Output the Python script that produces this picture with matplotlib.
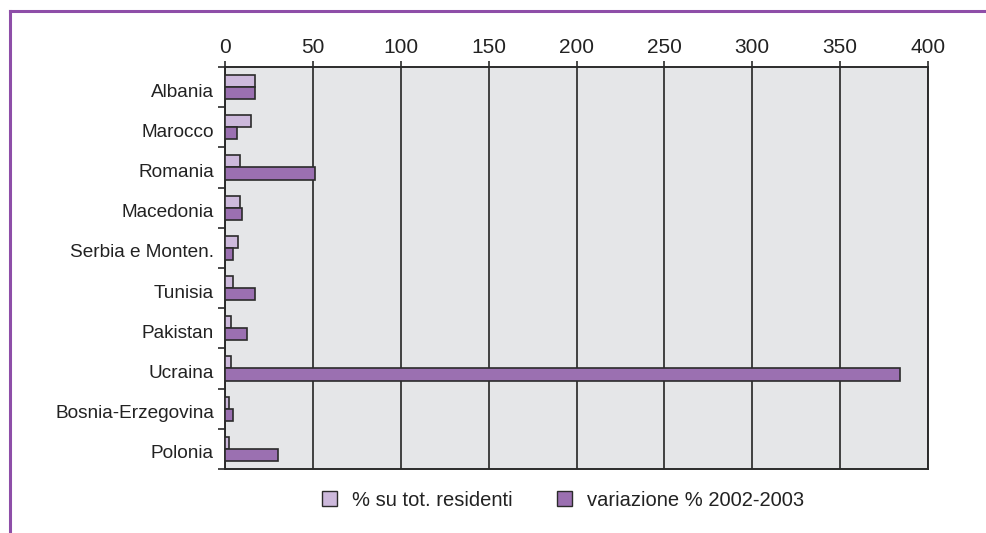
import numpy as np
import matplotlib.pyplot as plt
from matplotlib.lines import Line2D
from matplotlib.patches import Patch
from matplotlib.transforms import ScaledTranslation

plt.rcParams['font.family'] = ['Liberation Sans', 'DejaVu Sans']

countries = ['Albania', 'Marocco', 'Romania', 'Macedonia', 'Serbia e Monten.',
             'Tunisia', 'Pakistan', 'Ucraina', 'Bosnia-Erzegovina', 'Polonia']
perc_residenti = [17, 14.6, 8.5, 8.5, 7.2, 4.7, 3.6, 3.4, 2.5, 2.5]
variazione = [17, 7, 51, 9.7, 4.7, 17, 12.3, 384, 4.7, 30]
xticks = [0, 50, 100, 150, 200, 250, 300, 350, 400]

light = '#cdb9dc'
dark = '#9b70b1'
edge = '#2b2b2b'

fig = plt.figure(figsize=(9.87, 5.33), dpi=100)
ax = fig.add_axes([225/987, 1-469/533, (928-225)/987, (469-67)/533])
ax.set_facecolor('#e5e6e8')

y = np.arange(len(countries))
h = 0.3
ax.barh(y - h/2, perc_residenti, height=h, color=light, edgecolor=edge, linewidth=1.2, zorder=3)
ax.barh(y + h/2, variazione, height=h, color=dark, edgecolor=edge, linewidth=1.2, zorder=3)

ax.set_ylim(len(countries) - 0.5, -0.5)
ax.set_xlim(0, 400)
ax.xaxis.tick_top()
ax.set_xticks(xticks)
ax.tick_params(axis='x', length=4, width=1.2, color=edge, labelsize=15, pad=3, labelcolor='#222222')
ax.set_yticks(y)
ax.set_yticklabels(countries)
ax.set_yticks(np.arange(len(countries) + 1) - 0.5, minor=True)
ax.tick_params(axis='y', which='major', length=0, labelsize=13.7, pad=8, labelcolor='#222222')
ax.tick_params(axis='y', which='minor', length=5, width=1.2, color=edge)
# labels sit a little below the bar pair centre
for lbl in ax.get_yticklabels():
    lbl.set_transform(lbl.get_transform() + ScaledTranslation(0, -0.03, fig.dpi_scale_trans))
ax.grid(axis='x', color='#333333', linewidth=1.3, zorder=1)
ax.set_axisbelow(True)
for s in ax.spines.values():
    s.set_color(edge)
    s.set_linewidth(1.4)

handles = [Patch(facecolor=light, edgecolor=edge, label='% su tot. residenti'),
           Patch(facecolor=dark, edgecolor=edge, label='variazione % 2002-2003')]
leg = fig.legend(handles=handles, loc='center', bbox_to_anchor=(563/987, 1-500/533), ncol=2,
                 frameon=False, fontsize=14.5, handlelength=0.75, handleheight=0.75,
                 columnspacing=2.2, handletextpad=0.75)
for t in leg.get_texts():
    t.set_color('#222222')

# purple frame on top and left
fig.add_artist(Line2D([9.5/987, 1], [1-10.5/533, 1-10.5/533], color='#8e4ea8', linewidth=2.2))
fig.add_artist(Line2D([9.5/987, 9.5/987], [0, 1-10.5/533], color='#8e4ea8', linewidth=2.2))

fig.savefig('out.png', dpi=100)
